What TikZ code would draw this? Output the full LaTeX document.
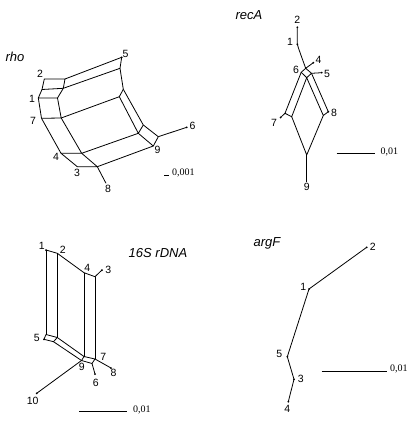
\documentclass[tikz,border=0pt]{standalone}
\usepackage{fontspec}
\setmainfont{Liberation Sans}
\newfontfamily\scalefont{Liberation Serif}
\begin{document}
\begin{tikzpicture}[x=1pt,y=-1pt,
  edge/.style={line width=0.8pt, line join=round},
  num/.style={font=\fontsize{10.5}{10.5}\selectfont, inner sep=0pt},
  ttl/.style={font=\fontsize{13}{13}\selectfont\itshape, inner sep=0pt},
  sc/.style={font=\scalefont\fontsize{10}{10}\selectfont, inner sep=0pt, anchor=west},
  leaf/.style={fill, circle, inner sep=0pt, minimum size=2pt}]
\useasboundingbox (0,0) rectangle (416,423);
% ================= rho =================
\node[ttl] (trho) at (15,57) {rho};
\coordinate (rA) at (44.3,79);
\coordinate (rB) at (65,79);
\coordinate (rC) at (42,89.5);
\coordinate (rD) at (63.3,88.3);
\coordinate (rE) at (38.3,98);
\coordinate (rF) at (57.5,98);
\coordinate (rG) at (41.5,118.3);
\coordinate (rH) at (61.2,118);
\coordinate (rP) at (121.7,57.3);
\coordinate (rQ) at (120,68.3);
\coordinate (rR) at (123.3,89.3);
\coordinate (rS) at (119.3,96.7);
\coordinate (rT) at (143.3,125);
\coordinate (rU) at (138.3,133.3);
\coordinate (rV) at (158.3,136.7);
\coordinate (rW) at (153.3,146);
\coordinate (rK) at (61,153.3);
\coordinate (rX) at (81.7,153.3);
\coordinate (rL) at (77.3,166.7);
\coordinate (rM) at (97.3,166.7);
\coordinate (r6) at (186.7,127.3);
\coordinate (r8) at (106,183.3);
\draw[edge] (rA) -- (rB) -- (rD) -- (rC) -- cycle;
\draw[edge] (rC) -- (rE) -- (rF) -- (rD);
\draw[edge] (rE) -- (rG) -- (rH) -- (rF);
\draw[edge] (rB) -- (rP) -- (rQ) -- (rD);
\draw[edge] (rQ) -- (rR) -- (rS) -- (rH);
\draw[edge] (rR) -- (rT) -- (rU) -- (rS);
\draw[edge] (rT) -- (rV) -- (rW) -- (rU);
\draw[edge] (rG) -- (rK) -- (rX) -- (rH);
\draw[edge] (rK) -- (rL) -- (rM) -- (rX);
\draw[edge] (rX) -- (rU);
\draw[edge] (rM) -- (rW);
\draw[edge] (rV) -- (r6);
\draw[edge] (rM) -- (r8);
\node[leaf] (d6) at (r6) {};
\node[leaf] (d5) at (rP) {};
\node[num] (n2r) at (40,74) {2};
\node[num] (n1r) at (32,98.5) {1};
\node[num] (n7r) at (33,121) {7};
\node[num] (n5r) at (125.5,54) {5};
\node[num] (n6r) at (192.5,126) {6};
\node[num] (n9r) at (157.5,150) {9};
\node[num] (n4r) at (56,157) {4};
\node[num] (n3r) at (77,172.5) {3};
\node[num] (n8r) at (108,189) {8};
\coordinate (rs1) at (164,175.5);
\coordinate (rs2) at (168.5,175.5);
\draw[edge] (rs1) -- (rs2);
\node[sc] (rst) at (172,172.5) {0,001};
% ================= recA =================
\node[ttl] (trec) at (249,15) {recA};
\coordinate (a2) at (297.3,27.3);
\coordinate (a1) at (297.3,44.3);
\coordinate (aTp) at (305.7,68.3);
\coordinate (aRt) at (311.5,73.3);
\coordinate (aBm) at (306.7,77.7);
\coordinate (aLf) at (301.2,72.3);
\coordinate (a4) at (313.3,62.7);
\coordinate (a5) at (321.7,72.7);
\coordinate (a7a) at (285,113.3);
\coordinate (a7b) at (291.7,116.7);
\coordinate (a7) at (280.5,117.5);
\coordinate (a8a) at (323.3,115.5);
\coordinate (a8b) at (328.3,111.7);
\coordinate (a9a) at (306.7,155);
\coordinate (a9) at (306.7,181.7);
\draw[edge] (a2) -- (a1) .. controls (299,50) and (302,58) .. (aTp);
\draw[edge] (aTp) -- (aRt) -- (aBm) -- (aLf) -- cycle;
\draw[edge] (aTp) -- (a4);
\draw[edge] (aRt) -- (a5);
\draw[edge] (aLf) -- (a7a) -- (a7b) -- (aBm);
\draw[edge] (a7a) -- (a7);
\draw[edge] (aBm) -- (a8a) -- (a8b) -- (aRt);
\draw[edge] (a7b) -- (a9a) -- (a8a);
\draw[edge] (a9a) -- (a9);
\node[leaf] (da2) at (a2) {};
\node[leaf] (da1) at (a1) {};
\node[leaf] (da4) at (a4) {};
\node[leaf] (da5) at (a5) {};
\node[leaf] (da7) at (a7) {};
\node[leaf] (da8) at (a8b) {};
\node[num] (n2a) at (297.3,20) {2};
\node[num] (n1a) at (290,41.7) {1};
\node[num] (n4a) at (318.5,59.5) {4};
\node[num] (n5a) at (327,74) {5};
\node[num] (n6a) at (296,70) {6};
\node[num] (n7a) at (274,123) {7};
\node[num] (n8a) at (334,113) {8};
\node[num] (n9a) at (306.7,187) {9};
\coordinate (as1) at (336.7,153.3);
\coordinate (as2) at (375,153.3);
\draw[edge] (as1) -- (as2);
\node[sc] (ast) at (380.5,151.5) {0,01};
% ================= 16S rDNA =================
\node[ttl] (t16) at (158,253) {16S rDNA};
\coordinate (s1) at (46,250);
\coordinate (s2) at (57.3,253.3);
\coordinate (s4) at (84,272.7);
\coordinate (s3c) at (95,276.7);
\coordinate (s3) at (102,270);
\coordinate (s1b) at (46,334.5);
\coordinate (s2b) at (57.3,337.5);
\coordinate (s5) at (44,339.3);
\coordinate (s5b) at (53.5,341.7);
\coordinate (s4b) at (84,356.5);
\coordinate (s3b) at (95,359);
\coordinate (s9) at (81.5,360.5);
\coordinate (s6c) at (92,363.5);
\coordinate (s6) at (95,374);
\coordinate (s8) at (111,368);
\coordinate (s10) at (36.7,393.3);
\draw[edge] (s1) -- (s2) -- (s4) -- (s3c) -- (s3);
\draw[edge] (s1) -- (s1b);
\draw[edge] (s2) -- (s2b);
\draw[edge] (s4) -- (s4b);
\draw[edge] (s3c) -- (s3b);
\draw[edge] (s1b) -- (s2b) -- (s5b) -- (s5) -- cycle;
\draw[edge] (s2b) -- (s4b) -- (s3b) -- (s6c) -- (s9) -- (s4b);
\draw[edge] (s5b) -- (s9);
\draw[edge] (s6c) -- (s6);
\draw[edge] (s3b) -- (s8);
\draw[edge] (s9) -- (s10);
\node[leaf] (ds1) at (s1) {};
\node[leaf] (ds3) at (s3) {};
\node[leaf] (ds5) at (s5) {};
\node[leaf] (ds6) at (s6) {};
\node[leaf] (ds8) at (s8) {};
\node[leaf] (ds10) at (s10) {};
\node[num] (n1s) at (41.7,246) {1};
\node[num] (n2s) at (62.7,250) {2};
\node[num] (n4s) at (87.3,268.3) {4};
\node[num] (n3s) at (108.3,270) {3};
\node[num] (n5s) at (36.7,338) {5};
\node[num] (n9s) at (81.7,367) {9};
\node[num] (n7s) at (103.3,357) {7};
\node[num] (n8s) at (113.5,372.5) {8};
\node[num] (n6s) at (95.7,383.3) {6};
\node[num] (n10s) at (32.7,401) {10};
\coordinate (ss1) at (79,411.7);
\coordinate (ss2) at (126.7,411.7);
\draw[edge] (ss1) -- (ss2);
\node[sc] (sst) at (133,410) {0,01};
% ================= argF =================
\node[ttl] (targ) at (267,243.3) {argF};
\coordinate (g2) at (366.7,247.3);
\coordinate (g1) at (309,289);
\coordinate (g5) at (287.3,356.7);
\coordinate (g3) at (294,379.3);
\coordinate (g4) at (288.3,401.7);
\draw[edge] (g2) -- (g1) -- (g5) -- (g3) -- (g4);
\node[leaf] (dg2) at (g2) {};
\node[leaf] (dg1) at (g1) {};
\node[leaf] (dg5) at (g5) {};
\node[leaf] (dg3) at (g3) {};
\node[leaf] (dg4) at (g4) {};
\node[num] (n2g) at (372.7,247.3) {2};
\node[num] (n1g) at (303.3,286.7) {1};
\node[num] (n5g) at (279.3,354.3) {5};
\node[num] (n3g) at (300.7,379.3) {3};
\node[num] (n4g) at (287.3,409) {4};
\coordinate (gs1) at (321.7,371.7);
\coordinate (gs2) at (386.7,371.7);
\draw[edge] (gs1) -- (gs2);
\node[sc] (gst) at (390,369) {0,01};
\end{tikzpicture}
\end{document}
